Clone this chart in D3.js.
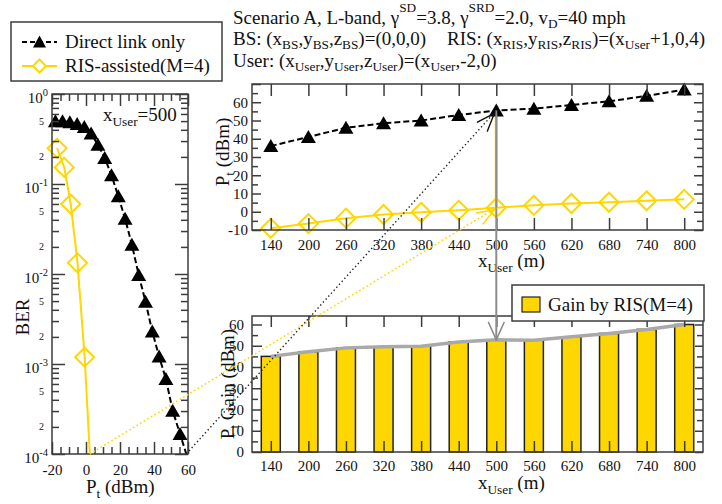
<!DOCTYPE html>
<html>
<head>
<meta charset="utf-8">
<script src="https://cdn.jsdelivr.net/npm/d3@7"></script>
<style>
  body { margin: 0; background: #fff; }
  svg { display: block; background: #fff; }
</style>
</head>
<body>
<svg id="chart" width="722" height="504"></svg>
<script>
// ---- BER versus transmit power, user at x = 500 m ----
const berPowerDirect = [-18, -13.8, -9.5, -5.2, -1, 3, 7, 11, 15, 19, 23, 27, 31, 35, 39, 43, 47, 51, 55.3, 59.3];
const berDirect = [0.497, 0.497, 0.484, 0.464, 0.43, 0.363, 0.273, 0.195, 0.125, 0.073, 0.041, 0.0212,
                   0.00975, 0.00493, 0.00229, 0.00121, 0.00068, 0.000303, 0.000167, 0.000096];
const berPowerRIS = [-17, -12.8, -9, -5, -0.8, 3];
const berRIS = [0.25, 0.153, 0.06, 0.0133, 0.00119, 0.000054];
const berTarget = 1e-4;

// ---- Required transmit power versus user position ----
const userPositions = [140, 200, 260, 320, 380, 440, 500, 560, 620, 680, 740, 800];
const ptDirect = [36, 41, 46, 48.5, 50, 53, 55.5, 56.5, 58.5, 60.5, 63.5, 67];
const ptRIS = [-9, -6.5, -3.5, -1.5, -0.3, 0.8, 2.2, 3.5, 4.5, 5.2, 6, 6.8];
const ptGain = [45, 47.2, 49, 49.5, 49.8, 51.8, 52.8, 52.6, 54.2, 55.8, 57.7, 60];
const highlightUser = 500;

// ---- tick values ----
const berXMajor = [-20, 0, 20, 40, 60];
const berXMinor = d3.range(-20, 61, 5).filter(v => v % 20 !== 0);
const berYMajor = [1e-4, 1e-3, 1e-2, 1e-1, 1];
const berYMinor = d3.range(-4, 0).flatMap(e => d3.range(2, 10).map(m => m * Math.pow(10, e)));
const berYMinorLabels = [5, 2];
const ptYMajor = d3.range(-10, 71, 10);
const ptYMinor = d3.range(-5, 70, 10);
const ptYLabels = d3.range(-10, 61, 10);
const gainYMajor = d3.range(0, 61, 10);
const gainYMinor = d3.range(5, 64, 10);

const FONT = '"Liberation Serif", "Times New Roman", serif';
const GOLD = "#FFD700";
const FRAME = "#3c3c3c";
const INK = "#111";

const svg = d3.select("#chart");
const defs = svg.append("defs");

function clipRect(id, x0, y0, x1, y1) {
  defs.append("clipPath").attr("id", id).append("rect")
    .attr("x", x0).attr("y", y0).attr("width", x1 - x0).attr("height", y1 - y0);
}

// text with sub/superscript runs: parts = [[text, "" | "sub" | "sup"], ...]
function rich(sel, parts, size, supShift = 0.5, subShift = 0.27) {
  let shift = 0;
  parts.forEach(([t, k]) => {
    let target = 0, fs = size;
    if (k === "sub") { target = subShift * size; fs = 0.7 * size; }
    if (k === "sup") { target = -supShift * size; fs = 0.7 * size; }
    sel.append("tspan").attr("dy", target - shift).attr("font-size", fs).text(t);
    shift = target;
  });
  return sel;
}

function text(g, x, y, size, anchor = "start") {
  return g.append("text").attr("x", x).attr("y", y)
    .attr("font-family", FONT).attr("font-size", size)
    .attr("fill", INK).attr("text-anchor", anchor);
}

// inward tick marks along one side of a frame
function ticks(g, axis, scale, values, len, tx, ty) {
  g.append("g").attr("transform", `translate(${tx},${ty})`)
    .call(axis(scale).tickValues(values).tickSize(-len).tickFormat(() => ""))
    .call(a => a.select(".domain").remove())
    .call(a => a.selectAll("text").remove())
    .call(a => a.selectAll("line").attr("stroke", FRAME).attr("stroke-width", 1.5));
}

function labels(g, axis, scale, values, pad, tx, ty) {
  g.append("g").attr("transform", `translate(${tx},${ty})`)
    .call(axis(scale).tickValues(values).tickSize(0).tickPadding(pad).tickFormat(d => String(d)))
    .call(a => a.select(".domain").remove())
    .call(a => a.selectAll("line").remove())
    .attr("font-family", FONT).attr("font-size", 15)
    .call(a => a.selectAll("text").attr("fill", INK));
}

function frame(g, x0, y0, x1, y1) {
  g.append("rect").attr("x", x0).attr("y", y0).attr("width", x1 - x0).attr("height", y1 - y0)
    .attr("fill", "none").attr("stroke", FRAME).attr("stroke-width", 1.5);
}

const TRI = "M0,-7L7.5,6L-7.5,6Z";
const diamond = r => `M0,${-r}L${r},0L0,${r}L${-r},0Z`;

function arrowHead(g, from, tip, len, ang, color, w) {
  const a = Math.atan2(from[1] - tip[1], from[0] - tip[0]);
  [ang, -ang].forEach(s => {
    g.append("line").attr("x1", tip[0]).attr("y1", tip[1])
      .attr("x2", tip[0] + len * Math.cos(a + s)).attr("y2", tip[1] + len * Math.sin(a + s))
      .attr("stroke", color).attr("stroke-width", w).attr("stroke-linecap", "round");
  });
}

// power at which a BER curve reaches the target level (log-linear interpolation)
function crossing(xs, ys, level) {
  const L = Math.log10(level);
  for (let i = 1; i < xs.length; i++) {
    const a = Math.log10(ys[i - 1]), b = Math.log10(ys[i]);
    if ((a - L) * (b - L) <= 0) return xs[i - 1] + (xs[i] - xs[i - 1]) * (a - L) / (a - b);
  }
  return xs[xs.length - 1];
}

// =================== header ===================
const header = svg.append("g");
rich(text(header, 233, 24, 19), [
  ["Scenario A, L-band, γ", ""], ["SD", "sup"], ["=3.8, γ", ""], ["SRD", "sup"],
  ["=2.0, v", ""], ["D", "sub"], ["=40 mph", ""]], 19, 0.62, 0.22);
rich(text(header, 233, 45, 19), [
  ["BS: (x", ""], ["BS", "sub"], [",y", ""], ["BS", "sub"], [",z", ""], ["BS", "sub"], [")=(0,0,0)", ""]], 19, 0.5, 0.22);
rich(text(header, 447, 45, 19), [
  ["RIS: (x", ""], ["RIS", "sub"], [",y", ""], ["RIS", "sub"], [",z", ""], ["RIS", "sub"],
  [")=(x", ""], ["User", "sub"], ["+1,0,4)", ""]], 19, 0.5, 0.22);
rich(text(header, 233, 67, 19), [
  ["User: (x", ""], ["User", "sub"], [",y", ""], ["User", "sub"], [",z", ""], ["User", "sub"],
  [")=(x", ""], ["User", "sub"], [",-2,0)", ""]], 19, 0.5, 0.22);

// =================== BER panel ===================
const B = { x0: 52, x1: 188, y0: 94, y1: 454 };
const bx = d3.scaleLinear([-20, 60], [B.x0, B.x1]);
const by = d3.scaleLog([1e-4, 1], [B.y1, B.y0]);
clipRect("clipBer", B.x0, B.y0, B.x1, B.y1);
const gB = svg.append("g");

const berLine = d3.line().x(d => bx(d[0])).y(d => by(d[1]));
const directPts = berPowerDirect.map((p, i) => [p, berDirect[i]]);
const risPts = berPowerRIS.map((p, i) => [p, berRIS[i]]);
const inB = d => d[1] >= 1e-4 && d[1] <= 1;

gB.append("path").attr("clip-path", "url(#clipBer)").attr("d", berLine(risPts))
  .attr("fill", "none").attr("stroke", GOLD).attr("stroke-width", 2);
gB.append("path").attr("clip-path", "url(#clipBer)").attr("d", berLine(directPts))
  .attr("fill", "none").attr("stroke", "#000").attr("stroke-width", 2).attr("stroke-dasharray", "6,3");
gB.selectAll(".risB").data(risPts.filter(inB)).join("path")
  .attr("transform", d => `translate(${bx(d[0])},${by(d[1])})`).attr("d", diamond(9.5))
  .attr("fill", "none").attr("stroke", GOLD).attr("stroke-width", 2);
gB.selectAll(".dirB").data(directPts.filter(inB)).join("path")
  .attr("transform", d => `translate(${bx(d[0])},${by(d[1])})`).attr("d", TRI)
  .attr("fill", "#000");

ticks(gB, d3.axisBottom, bx, berXMajor, 12, 0, B.y1);
ticks(gB, d3.axisBottom, bx, berXMinor, 7, 0, B.y1);
ticks(gB, d3.axisTop, bx, berXMajor, 12, 0, B.y0);
ticks(gB, d3.axisTop, bx, berXMinor, 7, 0, B.y0);
ticks(gB, d3.axisLeft, by, berYMajor, 13, B.x0, 0);
ticks(gB, d3.axisLeft, by, berYMinor, 7, B.x0, 0);
ticks(gB, d3.axisRight, by, berYMajor, 13, B.x1, 0);
ticks(gB, d3.axisRight, by, berYMinor, 7, B.x1, 0);
frame(gB, B.x0, B.y0, B.x1, B.y1);

labels(gB, d3.axisBottom, bx, berXMajor, 10, 0, B.y1);
berYMajor.forEach(v => {
  rich(text(gB, 48, by(v) + 9, 15, "end"), [["10", ""], [String(Math.round(Math.log10(v))), "sup"]], 15, 0.45);
});
berYMajor.slice(0, -1).forEach(v => {
  berYMinorLabels.forEach(m => {
    text(gB, 44, by(v * m) + 3.5, 10, "end").text(String(m));
  });
});
rich(text(gB, 86, 493, 19), [["P", ""], ["t", "sub"], [" (dBm)", ""]], 19);
rich(text(gB, 0, 0, 19, "middle").attr("transform", "translate(29,317) rotate(-90)"), [["BER", ""]], 19);
rich(text(gB, 103, 121, 19), [["x", ""], ["User", "sub"], ["=" + highlightUser, ""]], 19);

// =================== required power panel ===================
const T = { x0: 252, x1: 703, y0: 84, y1: 230 };
const tx = d3.scaleLinear([110, 830], [T.x0, T.x1]);
const ty = d3.scaleLinear([-10, 70], [T.y1, T.y0]);
const gT = svg.append("g");
const hi = userPositions.indexOf(highlightUser);

// =================== gain panel ===================
const G = { x0: 252, x1: 703, y0: 316, y1: 452 };
const gy = d3.scaleLinear([0, 64], [G.y1, G.y0]);
const gG = svg.append("g");

// link between the panels at the highlighted position
const hx = tx(highlightUser);
const gainTip = [hx, gy(ptGain[hi])];
svg.append("line").attr("x1", hx).attr("x2", hx).attr("y1", ty(ptDirect[hi])).attr("y2", gainTip[1])
  .attr("stroke", "#8c8c8c").attr("stroke-width", 2);

// required power curves
const ptLine = d3.line().x(d => tx(d[0])).y(d => ty(d[1]));
const dirT = userPositions.map((u, i) => [u, ptDirect[i]]);
const risT = userPositions.map((u, i) => [u, ptRIS[i]]);
gT.append("path").attr("d", ptLine(risT)).attr("fill", "none").attr("stroke", GOLD).attr("stroke-width", 2);
gT.append("path").attr("d", ptLine(dirT)).attr("fill", "none").attr("stroke", "#000")
  .attr("stroke-width", 2).attr("stroke-dasharray", "6,3");
gT.append("line").attr("x1", hx).attr("x2", hx).attr("y1", ty(ptDirect[hi])).attr("y2", ty(ptRIS[hi]))
  .attr("stroke", GOLD).attr("stroke-width", 3);
gT.selectAll(".risT").data(risT).join("path")
  .attr("transform", d => `translate(${tx(d[0])},${ty(d[1])})`).attr("d", diamond(9.5))
  .attr("fill", "none").attr("stroke", GOLD).attr("stroke-width", 2);
gT.selectAll(".dirT").data(dirT).join("path")
  .attr("transform", d => `translate(${tx(d[0])},${ty(d[1])})`).attr("d", TRI).attr("fill", "#000");

ticks(gT, d3.axisBottom, tx, userPositions, 12, 0, T.y1);
ticks(gT, d3.axisTop, tx, userPositions, 12, 0, T.y0);
ticks(gT, d3.axisLeft, ty, ptYMajor, 9, T.x0, 0);
ticks(gT, d3.axisLeft, ty, ptYMinor, 6, T.x0, 0);
ticks(gT, d3.axisRight, ty, ptYMajor, 9, T.x1, 0);
ticks(gT, d3.axisRight, ty, ptYMinor, 6, T.x1, 0);
frame(gT, T.x0, T.y0, T.x1, T.y1);
labels(gT, d3.axisBottom, tx, userPositions, 9, 0, T.y1);
labels(gT, d3.axisLeft, ty, ptYLabels, 4, T.x0, 0);
rich(text(gT, 478, 267, 19), [["x", ""], ["User", "sub"], [" (m)", ""]], 19);
rich(text(gT, 0, 0, 19, "middle").attr("transform", "translate(229,152) rotate(-90)"),
  [["P", ""], ["t", "sub"], [" (dBm)", ""]], 19);

// gain bars
const gainPts = userPositions.map((u, i) => [u, ptGain[i]]);
gG.selectAll(".bar").data(gainPts).join("rect")
  .attr("x", d => tx(d[0]) - 9.5).attr("width", 19)
  .attr("y", d => gy(d[1])).attr("height", d => gy(0) - gy(d[1]))
  .attr("fill", GOLD).attr("stroke", "#222").attr("stroke-width", 1.5);
gG.append("path").attr("d", d3.line().x(d => tx(d[0])).y(d => gy(d[1]))(gainPts))
  .attr("fill", "none").attr("stroke", "#a9a9a9").attr("stroke-width", 3.5);

ticks(gG, d3.axisBottom, tx, userPositions, 11, 0, G.y1);
ticks(gG, d3.axisTop, tx, userPositions, 11, 0, G.y0);
ticks(gG, d3.axisLeft, gy, gainYMajor, 10, G.x0, 0);
ticks(gG, d3.axisLeft, gy, gainYMinor, 6, G.x0, 0);
ticks(gG, d3.axisRight, gy, gainYMajor, 8, G.x1, 0);
ticks(gG, d3.axisRight, gy, gainYMinor, 6, G.x1, 0);
frame(gG, G.x0, G.y0, G.x1, G.y1);
labels(gG, d3.axisBottom, tx, userPositions, 8, 0, G.y1);
labels(gG, d3.axisLeft, gy, gainYMajor, 8, G.x0, 0);
rich(text(gG, 478, 489, 19), [["x", ""], ["User", "sub"], [" (m)", ""]], 19);
rich(text(gG, 0, 0, 19, "middle").attr("transform", "translate(234,384) rotate(-90)"),
  [["P", ""], ["t", "sub"], [" Gain (dBm)", ""]], 19);

// gain arrow head
arrowHead(svg, [hx, ty(ptRIS[hi])], gainTip, 19, 0.42, "#8c8c8c", 1.6);

// dotted links from the BER target crossing to the required power points
const ann = svg.append("g");
const dStart = [bx(crossing(berPowerDirect, berDirect, berTarget)), by(berTarget)];
const dEnd = [hx, ty(ptDirect[hi])];
const rStart = [bx(crossing(berPowerRIS, berRIS, berTarget)), by(berTarget)];
const rEnd = [hx, ty(ptRIS[hi])];
ann.append("line").attr("x1", rStart[0]).attr("y1", rStart[1]).attr("x2", rEnd[0]).attr("y2", rEnd[1])
  .attr("stroke", GOLD).attr("stroke-width", 1.6).attr("stroke-dasharray", "1.6,2.6");
ann.append("line").attr("x1", dStart[0]).attr("y1", dStart[1]).attr("x2", dEnd[0]).attr("y2", dEnd[1])
  .attr("stroke", "#222").attr("stroke-width", 1.4).attr("stroke-dasharray", "1.4,2.6");
arrowHead(ann, dStart, [dEnd[0] - 2, dEnd[1] + 3], 19, 0.36, "#111", 1.4);
arrowHead(ann, rStart, [rEnd[0] - 2, rEnd[1] + 2], 18, 0.36, GOLD, 1.6);

// =================== legends ===================
const leg = svg.append("g");
leg.append("rect").attr("x", 11).attr("y", 22).attr("width", 211).attr("height", 59)
  .attr("fill", "#fff").attr("stroke", FRAME).attr("stroke-width", 1.5);
leg.append("line").attr("x1", 22).attr("x2", 57).attr("y1", 42).attr("y2", 42)
  .attr("stroke", "#000").attr("stroke-width", 2).attr("stroke-dasharray", "5,3");
leg.append("path").attr("transform", "translate(39.5,42)").attr("d", "M0,-6.5L6.5,5.5L-6.5,5.5Z").attr("fill", "#000");
leg.append("line").attr("x1", 22).attr("x2", 57).attr("y1", 66).attr("y2", 66)
  .attr("stroke", GOLD).attr("stroke-width", 2);
leg.append("path").attr("transform", "translate(39.5,66)").attr("d", diamond(6.5))
  .attr("fill", "#fff").attr("stroke", GOLD).attr("stroke-width", 2);
text(leg, 65, 48, 19).text("Direct link only");
text(leg, 65, 72, 19).text("RIS-assisted(M=4)");

const leg2 = svg.append("g");
leg2.append("rect").attr("x", 512).attr("y", 285).attr("width", 192).attr("height", 36)
  .attr("fill", "#fff").attr("stroke", FRAME).attr("stroke-width", 1.5);
leg2.append("rect").attr("x", 522).attr("y", 297).attr("width", 18).attr("height", 15)
  .attr("fill", GOLD).attr("stroke", "#222").attr("stroke-width", 1.2);
text(leg2, 548, 311, 19).text("Gain by RIS(M=4)");
</script>
</body>
</html>
